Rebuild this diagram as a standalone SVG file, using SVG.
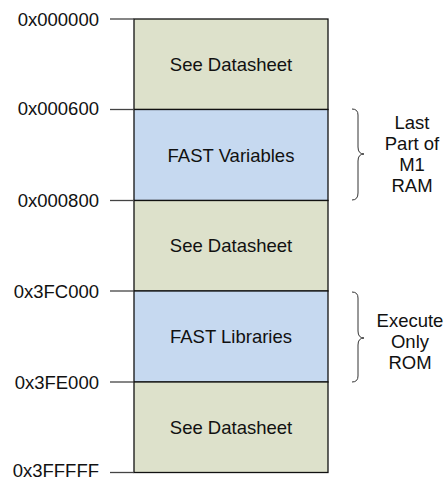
<svg xmlns="http://www.w3.org/2000/svg" width="445" height="481" viewBox="0 0 445 481">
<style>
text{font-family:"Liberation Sans",Arial,sans-serif;font-size:18.5px;fill:#111}
.c{text-anchor:middle}
.e{text-anchor:end}
.g{fill:#DDE1CB;stroke:#111;stroke-width:1.3}
.b{fill:#C6D9F0;stroke:#111;stroke-width:1.3}
.tick{stroke:#444;stroke-width:1.3}
.brace{fill:none;stroke:#333;stroke-width:1}
</style>
<rect width="445" height="481" fill="#fff"/>
<g id="region1"><rect class="g" x="134" y="19" width="194" height="90.5"/><text class="c" x="231" y="71">See Datasheet</text></g>
<g id="region2"><rect class="b" x="134" y="109.5" width="194" height="91"/><text class="c" x="231" y="162">FAST Variables</text></g>
<g id="region3"><rect class="g" x="134" y="200.5" width="194" height="90.5"/><text class="c" x="231" y="252">See Datasheet</text></g>
<g id="region4"><rect class="b" x="134" y="291" width="194" height="91"/><text class="c" x="231" y="343">FAST Libraries</text></g>
<g id="region5"><rect class="g" x="134" y="382" width="194" height="90.5"/><text class="c" x="231" y="434">See Datasheet</text></g>
<g id="addresses">
<line class="tick" x1="110" y1="19" x2="134" y2="19"/><text class="e" x="99" y="25.5">0x000000</text>
<line class="tick" x1="110" y1="109.5" x2="134" y2="109.5"/><text class="e" x="99" y="115">0x000600</text>
<line class="tick" x1="110" y1="200.5" x2="134" y2="200.5"/><text class="e" x="99" y="207">0x000800</text>
<line class="tick" x1="110" y1="291" x2="134" y2="291"/><text class="e" x="99" y="297.5">0x3FC000</text>
<line class="tick" x1="110" y1="382" x2="134" y2="382"/><text class="e" x="99" y="388.5">0x3FE000</text>
<line class="tick" x1="110" y1="472.5" x2="134" y2="472.5"/><text class="e" x="99" y="477">0x3FFFFF</text>
</g>
<g id="brace1"><path class="brace" d="M352,109 Q358,109 358,115 L358,147 Q358,154 364,154 Q358,154 358,161 L358,193 Q358,200 352,200"/>
<text class="c" x="412" y="128.5">Last</text><text class="c" x="412" y="149.5">Part of</text><text class="c" x="412" y="170.5">M1</text><text class="c" x="412" y="191.5">RAM</text></g>
<g id="brace2"><path class="brace" d="M352,292 Q358,292 358,298 L358,331 Q358,338 364,338 Q358,338 358,345 L358,376 Q358,382 352,382"/>
<text class="c" x="410" y="326.5">Execute</text><text class="c" x="410" y="347.5">Only</text><text class="c" x="410" y="368.5">ROM</text></g>
</svg>
